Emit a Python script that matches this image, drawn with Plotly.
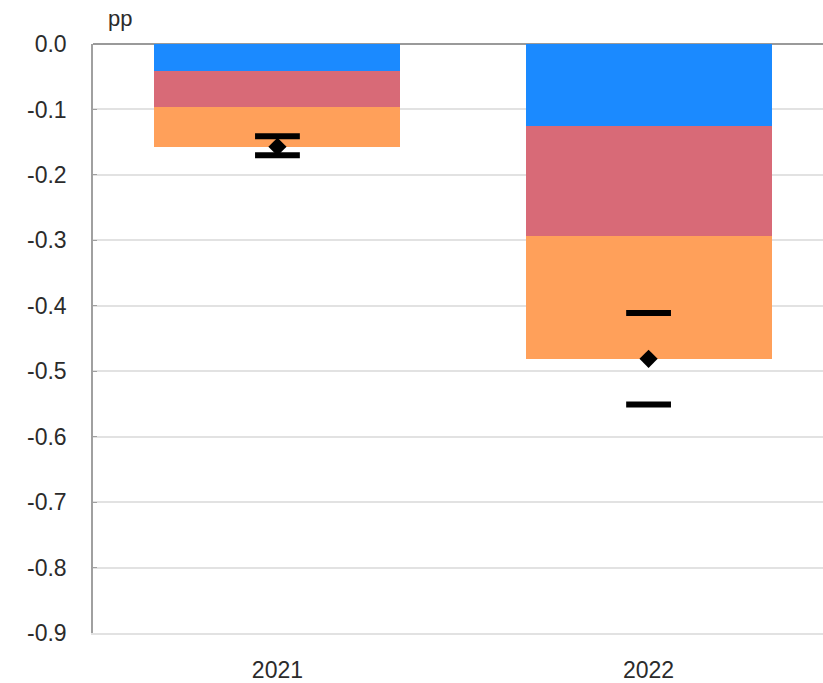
import plotly.graph_objects as go

# Contributions by year (percentage points)
years = ["2021", "2022"]
blue_part = [-0.041, -0.126]
red_part = [-0.056, -0.168]
orange_part = [-0.060, -0.187]
total = [-0.157, -0.481]
band_upper = [-0.141, -0.411]
band_lower = [-0.170, -0.551]

FONT = "Liberation Sans, Arial, sans-serif"
TEXT = "#2b2b2b"

fig = go.Figure()
for vals, col in [(blue_part, "#1b8aff"), (red_part, "#d86a77"), (orange_part, "#ffa05a")]:
    fig.add_trace(go.Bar(x=years, y=vals, marker=dict(color=col, line=dict(width=0)),
                         width=0.663, showlegend=False, hoverinfo="y"))

# Range markers (upper / lower) drawn as short dashes
fig.add_trace(go.Scatter(x=years + years, y=band_upper + band_lower, mode="markers",
                         marker=dict(symbol="line-ew", size=32,
                                     line=dict(color="black", width=6)),
                         showlegend=False, hoverinfo="y"))
# Point estimate
fig.add_trace(go.Scatter(x=years, y=total, mode="markers",
                         marker=dict(symbol="diamond", size=14, color="black"),
                         showlegend=False, hoverinfo="y"))

fig.update_layout(
    width=823, height=683,
    margin=dict(l=93, r=0, t=44, b=48),
    barmode="relative",
    bargap=0,
    plot_bgcolor="white", paper_bgcolor="white",
    font=dict(family=FONT, size=23, color=TEXT),
    xaxis=dict(range=[-0.497, 1.47], showgrid=False, zeroline=False,
               showline=True, linecolor="#e2e2e2", linewidth=2,
               ticks="", tickfont=dict(size=23, color=TEXT), ticklabelstandoff=15,
               fixedrange=True),
    yaxis=dict(range=[-0.9, 0.0], tickvals=[0, -0.1, -0.2, -0.3, -0.4, -0.5, -0.6, -0.7, -0.8, -0.9],
               ticktext=["0.0", "-0.1", "-0.2", "-0.3", "-0.4", "-0.5", "-0.6", "-0.7", "-0.8", "-0.9"],
               showgrid=True, gridcolor="#e2e2e2", gridwidth=1.5,
               zeroline=True, zerolinecolor="#9a9a9a", zerolinewidth=2,
               showline=True, linecolor="#a0a0a0", linewidth=1.5,
               ticks="inside", ticklen=4, tickcolor="#a0a0a0",
               tickfont=dict(size=23, color=TEXT), ticklabelstandoff=20,
               fixedrange=True),
    annotations=[dict(text="pp", xref="x domain", yref="y domain", x=(120 - 93) / 730,
                      y=1 + (44 - 18) / 591, xanchor="center", yanchor="middle",
                      showarrow=False, font=dict(size=22, color=TEXT))],
)

fig.write_html("out.html")
